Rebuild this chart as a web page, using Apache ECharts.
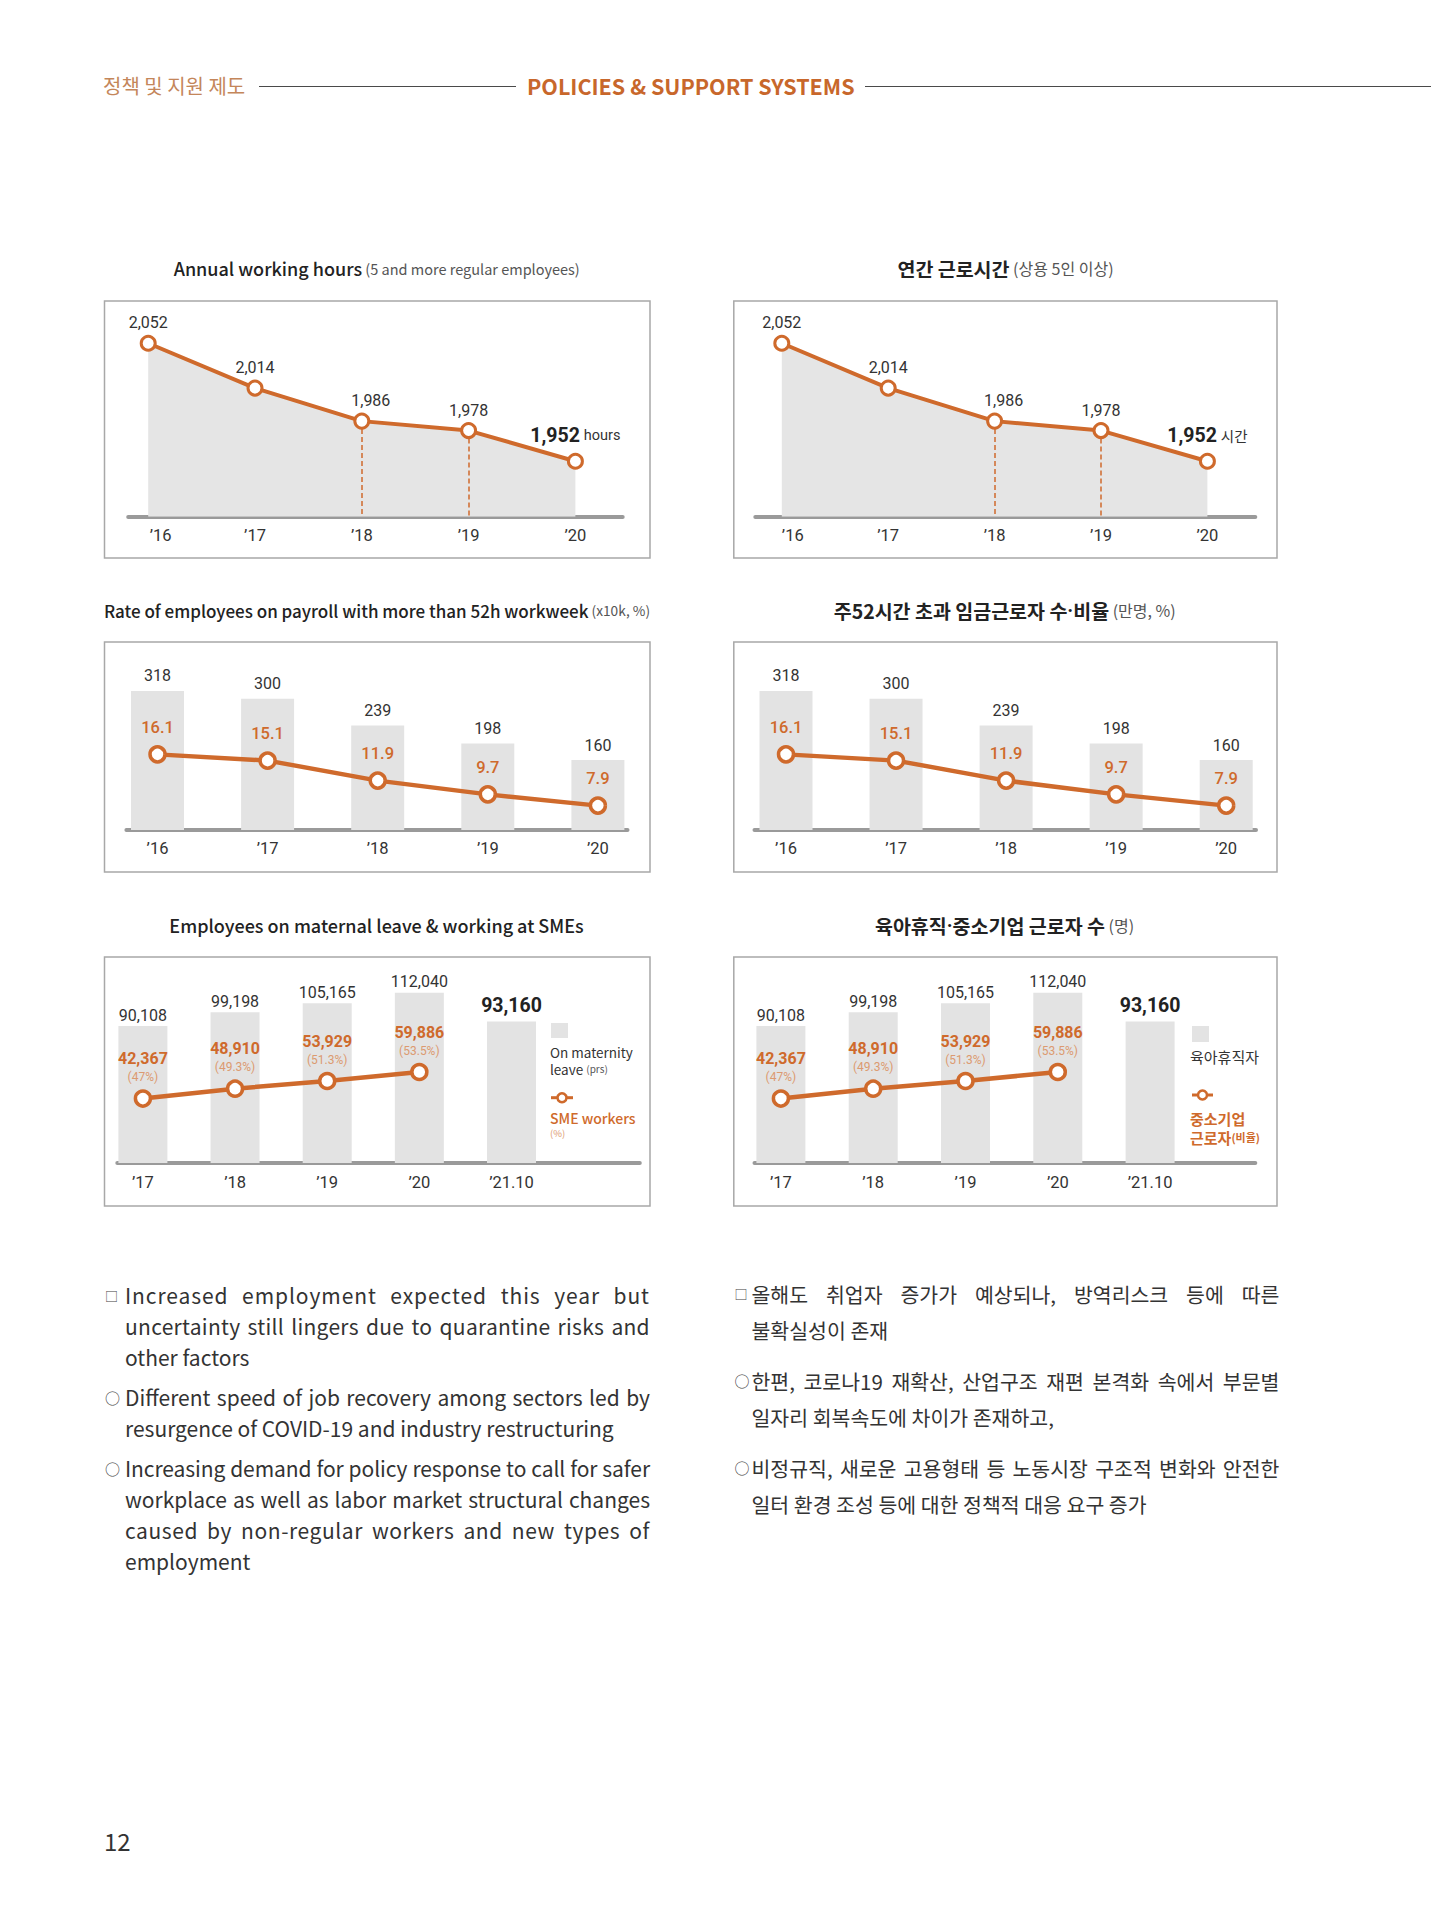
<!DOCTYPE html>
<html><head><meta charset="utf-8">
<script src="https://cdn.jsdelivr.net/npm/echarts@6/dist/echarts.min.js"></script>
<style>
html,body{margin:0;padding:0;background:#fff;}
body{width:1431px;height:1920px;position:relative;overflow:hidden;font-family:'Noto Sans CJK KR','Noto Sans',sans-serif;}
#chart{position:absolute;left:0;top:0;width:1431px;height:1920px;}
.abs{position:absolute;white-space:nowrap;}
.hline{position:absolute;height:1px;background:#4a4a4a;}
.col{position:absolute;color:#333;}
.para{position:relative;}
.mk{position:absolute;top:0;color:#444;letter-spacing:0;}
.ln{display:flex;justify-content:space-between;white-space:nowrap;}
.ln.last{display:block;}
</style></head>
<body>
<div id="chart"></div>
<div class="abs" style="left:103px;top:73px;font-size:20px;line-height:26px;color:#c4865a;">정책 및 지원 제도</div>
<div class="hline" style="left:259px;top:86px;width:257px;"></div>
<div class="abs" style="left:527px;top:71px;font-size:21.5px;line-height:30px;font-weight:700;color:#c8672b;">POLICIES &amp; SUPPORT SYSTEMS</div>
<div class="hline" style="left:865px;top:86px;width:566px;"></div>
<div id="leftCol" class="col" style="left:125px;top:1280px;width:525px;font-size:21px;line-height:31px;"></div>
<div id="rightCol" class="col" style="left:751.5px;top:1275.75px;width:528px;font-size:20.5px;line-height:36.5px;"></div>
<div class="abs" style="left:104px;top:1826px;font-size:24px;line-height:30px;color:#333;">12</div>
<script>
// ---------------- data ----------------
const hourYears = ['’16', '’17', '’18', '’19', '’20'];
const annualHours = [2052, 2014, 1986, 1978, 1952];
const longYears = ['’16', '’17', '’18', '’19', '’20'];
const longCount = [318, 300, 239, 198, 160];      // x10k persons
const longRate = [16.1, 15.1, 11.9, 9.7, 7.9];   // %
const leaveYears = ['’17', '’18', '’19', '’20', '’21.10'];
const leaveTotal = [90108, 99198, 105165, 112040, 93160];
const smeCount = [42367, 48910, 53929, 59886];
const smeShare = [47, 49.3, 51.3, 53.5];

const titlesMain = ['Annual working hours', '연간 근로시간', 'Rate of employees on payroll with more than 52h workweek', '주52시간 초과 임금근로자 수·비율', 'Employees on maternal leave & working at SMEs', '육아휴직·중소기업 근로자 수'];
const titlesSub = [' (5 and more regular employees)', ' (상용 5인 이상)', ' (x10k, %)', ' (만명, %)', '', ' (명)'];

const leftBullets = [
  {mark: '□', lines: ['Increased employment expected this year but', 'uncertainty still lingers due to quarantine risks and', 'other factors']},
  {mark: '○', lines: ['Different speed of job recovery among sectors led by', 'resurgence of COVID-19 and industry restructuring']},
  {mark: '○', lines: ['Increasing demand for policy response to call for safer', 'workplace as well as labor market structural changes', 'caused by non-regular workers and new types of', 'employment']}
];
const rightBullets = [
  {mark: '□', lines: ['올해도 취업자 증가가 예상되나, 방역리스크 등에 따른', '불확실성이 존재']},
  {mark: '○', lines: ['한편, 코로나19 재확산, 산업구조 재편 본격화 속에서 부문별', '일자리 회복속도에 차이가 존재하고,']},
  {mark: '○', lines: ['비정규직, 새로운 고용형태 등 노동시장 구조적 변화와 안전한', '일터 환경 조성 등에 대한 정책적 대응 요구 증가']}
];

// ---------------- style / layout ----------------
const ORANGE = '#cf6a2c';
const ORANGE_LIGHT = '#dc9a70';
const GRAY_BAR = '#e3e3e3';
const AXIS_GRAY = '#9a9a9a';
const NUM_FONT = 'Roboto, "Liberation Sans", sans-serif';
const KR_FONT = '"Noto Sans CJK KR", "Noto Sans", sans-serif';
const fmt = v => Number(v).toLocaleString('en-US');

const LAY = [
  {axisLeft: 128.2, axisRight: 622.7, first: 148.2, step: 106.8, top: 280.7, bottom: 516.7},
  {axisLeft: 755.3, axisRight: 1255.3, first: 781.8, step: 106.4, top: 280.7, bottom: 516.7},
  {axisLeft: 126.4, axisRight: 627.5, first: 157.5, step: 110.1, top: 655, bottom: 830},
  {axisLeft: 754.5, axisRight: 1256, first: 786, step: 110.05, top: 655, bottom: 830},
  {axisLeft: 117.3, axisRight: 639.8, first: 142.9, step: 92.15, top: 980.6, bottom: 1163},
  {axisLeft: 754.5, axisRight: 1255.3, first: 780.9, step: 92.3, top: 980.6, bottom: 1163}
];
const HOURS_MIN = 1905, HOURS_MAX = 2105;

const grids = LAY.map(g => ({left: g.axisLeft, top: g.top, width: g.axisRight - g.axisLeft, height: g.bottom - g.top, containLabel: false, outerBoundsMode: 'none'}));

function makeX(i, cats, margin, firstPad) {
  const g = LAY[i];
  return {
    type: 'value', gridIndex: i,
    min: (g.axisLeft - g.first) / g.step, max: (g.axisRight - g.first) / g.step,
    axisLine: {show: true, onZero: false, lineStyle: {color: AXIS_GRAY, width: 4}},
    axisTick: {show: false}, splitLine: {show: false},
    axisLabel: {
      customValues: cats.map((c, k) => k),
      formatter: v => { const k = Math.round(v); return (k === 0 && firstPad) ? '{p|' + cats[0] + '}' : cats[k]; },
      rich: {p: {padding: [0, 0, 0, firstPad || 0], fontSize: 16.5, fontFamily: NUM_FONT, color: '#333'}},
      margin: margin, fontSize: 16.5, fontFamily: NUM_FONT, color: '#333'
    }
  };
}

const xAxes = [
  makeX(0, hourYears, 10, 25), makeX(1, hourYears, 10, 22),
  makeX(2, longYears, 10, 0), makeX(3, longYears, 10, 0),
  makeX(4, leaveYears, 11, 0), makeX(5, leaveYears, 11, 0)
];
const hid = {show: false, splitLine: {show: false}};
const yAxes = [
  Object.assign({type: 'value', gridIndex: 0, min: HOURS_MIN, max: HOURS_MAX}, hid),
  Object.assign({type: 'value', gridIndex: 1, min: HOURS_MIN, max: HOURS_MAX}, hid),
  Object.assign({type: 'value', gridIndex: 2, min: 0, max: 400}, hid),
  Object.assign({type: 'value', gridIndex: 2, min: 4, max: 32}, hid),
  Object.assign({type: 'value', gridIndex: 3, min: 0, max: 400}, hid),
  Object.assign({type: 'value', gridIndex: 3, min: 4, max: 32}, hid),
  Object.assign({type: 'value', gridIndex: 4, min: 0, max: 120000}, hid),
  Object.assign({type: 'value', gridIndex: 5, min: 0, max: 120000}, hid)
];

function hoursSeries(i, unit, unitFont) {
  const n = annualHours.length;
  const pts = annualHours.map((v, k) => [k, v]);
  return [
    {
      type: 'line', xAxisIndex: i, yAxisIndex: i, data: pts, z: 1,
      showSymbol: false, symbol: 'none', lineStyle: {width: 0},
      areaStyle: {color: '#e5e5e5', opacity: 1, origin: 'start'},
      silent: true,
      markLine: {
        silent: true, symbol: 'none', label: {show: false}, animation: false,
        lineStyle: {color: ORANGE, type: [5, 3], width: 1.5},
        data: [2, 3].map(k => [{coord: [k, annualHours[k]]}, {coord: [k, HOURS_MIN]}])
      }
    },
    {
      type: 'line', xAxisIndex: i, yAxisIndex: i, data: pts, z: 6,
      symbol: 'circle', symbolSize: 14,
      itemStyle: {color: '#fff', borderColor: ORANGE, borderWidth: 3},
      lineStyle: {color: ORANGE, width: 4},
      label: {
        show: true, position: 'top', distance: 4, fontFamily: NUM_FONT, fontSize: 16, color: '#333',
        formatter: p => p.dataIndex === n - 1 ? '{b|' + fmt(p.value[1]) + '} {u|' + unit + '}' : fmt(p.value[1]),
        rich: {
          b: {fontSize: 19.5, fontWeight: 'bold', color: '#222', fontFamily: NUM_FONT},
          u: {fontSize: 14.5, color: '#333', fontFamily: unitFont}
        }
      },
      labelLayout: p => p.dataIndex === 2 ? {dx: 9} : (p.dataIndex === n - 1 ? {dy: -3} : {})
    }
  ];
}

function longSeries(i, yCount, yRate) {
  return [
    {
      type: 'bar', xAxisIndex: i, yAxisIndex: yCount, data: longCount.map((v, k) => [k, v]),
      barWidth: 53, itemStyle: {color: GRAY_BAR}, z: 2,
      label: {show: true, position: 'top', distance: 7, fontFamily: NUM_FONT, fontSize: 16, color: '#333', formatter: p => fmt(p.value[1])}
    },
    {
      type: 'line', xAxisIndex: i, yAxisIndex: yRate, data: longRate.map((v, k) => [k, v]), z: 4,
      symbol: 'circle', symbolSize: 15,
      itemStyle: {color: '#fff', borderColor: ORANGE, borderWidth: 3.5},
      lineStyle: {color: ORANGE, width: 4.5},
      label: {show: true, position: 'top', distance: 9, fontFamily: NUM_FONT, fontSize: 16.5, fontWeight: 500, color: ORANGE, formatter: p => String(p.value[1])}
    }
  ];
}

function leaveSeries(i, y) {
  const n = leaveTotal.length;
  return [
    {
      type: 'bar', xAxisIndex: i, yAxisIndex: y, data: leaveTotal.map((v, k) => [k, v]),
      barWidth: 49, itemStyle: {color: GRAY_BAR}, z: 2,
      label: {
        show: true, position: 'top', distance: 3,
        formatter: p => p.dataIndex === n - 1 ? '{b|' + fmt(p.value[1]) + '}' : '{n|' + fmt(p.value[1]) + '}',
        rich: {
          n: {fontFamily: NUM_FONT, fontSize: 16, color: '#333'},
          b: {fontFamily: NUM_FONT, fontSize: 19.5, fontWeight: 'bold', color: '#222', padding: [0, 0, 3, 0]}
        }
      }
    },
    {
      type: 'line', xAxisIndex: i, yAxisIndex: y, data: smeCount.map((v, k) => [k, v]), z: 4,
      symbol: 'circle', symbolSize: 15,
      itemStyle: {color: '#fff', borderColor: ORANGE, borderWidth: 3.5},
      lineStyle: {color: ORANGE, width: 4.5},
      label: {
        show: true, position: 'top', distance: 4,
        formatter: p => '{a|' + fmt(p.value[1]) + '}\n{b|(' + smeShare[p.dataIndex] + '%)}',
        rich: {
          a: {fontFamily: NUM_FONT, fontSize: 16, fontWeight: 'bold', color: ORANGE, lineHeight: 21, align: 'center'},
          b: {fontFamily: NUM_FONT, fontSize: 12, color: ORANGE_LIGHT, lineHeight: 16, align: 'center'}
        }
      }
    }
  ];
}

const series = [].concat(
  hoursSeries(0, 'hours', NUM_FONT), hoursSeries(1, '시간', KR_FONT),
  longSeries(2, 2, 3), longSeries(3, 4, 5),
  leaveSeries(4, 6), leaveSeries(5, 7)
);

// ---------------- decorations (boxes, titles, legends) ----------------
const boxes = [
  [104.5, 301, 545.5, 257], [733.8, 301, 543.2, 257],
  [104.5, 642, 545.5, 230], [733.8, 642, 543.2, 230],
  [104.5, 957, 545.5, 249], [733.8, 957, 543.2, 249]
];
const titlePos = [[376.7, 268], [1005.5, 268], [377, 610], [1004.7, 610], [376.5, 925], [1004.5, 925]];
const isKr = [false, true, false, true, false, true];
const mainSize = [18, 19.5, 17, 19.5, 18, 19.5];
const subSize = [14.5, 16, 13.7, 16, 14.5, 16];

const graphics = [];
boxes.forEach(b => graphics.push({type: 'rect', shape: {x: b[0], y: b[1], width: b[2], height: b[3]}, style: {fill: 'none', stroke: '#a8a8a8', lineWidth: 1.5}, silent: true}));
titlePos.forEach((p, i) => {
  const mainRich = titlesMain[i].split('·').map(s => '{m|' + s + '}').join('{d|·}');
  graphics.push({
    type: 'text', x: p[0], y: p[1], silent: true,
    style: {
      text: mainRich + (titlesSub[i] ? '{s|' + titlesSub[i] + '}' : ''),
      align: 'center', verticalAlign: 'middle', textAlign: 'center', textVerticalAlign: 'middle',
      rich: {
        m: {fontFamily: KR_FONT, fontSize: mainSize[i], fontWeight: isKr[i] ? 'bold' : 500, fill: '#222'},
        d: {fontFamily: NUM_FONT, fontSize: mainSize[i], fontWeight: 'bold', fill: '#222'},
        s: {fontFamily: KR_FONT, fontSize: subSize[i], fill: '#555'}
      }
    }
  });
});
function txt(x, y, text, rich) {
  return {type: 'text', x: x, y: y, silent: true, style: {text: text, fontFamily: KR_FONT, fontSize: 14, fill: '#333', align: 'left', verticalAlign: 'middle', textAlign: 'left', textVerticalAlign: 'middle', rich: rich}};
}
// left legend
graphics.push({type: 'rect', shape: {x: 551, y: 1023, width: 17, height: 15}, style: {fill: GRAY_BAR}, silent: true});
graphics.push(txt(550, 1060, '{a|On maternity}\n{a|leave} {b|(prs)}', {
  a: {fontFamily: KR_FONT, fontSize: 13.5, fill: '#333', lineHeight: 17},
  b: {fontFamily: KR_FONT, fontSize: 10, fill: '#555', lineHeight: 17}
}));
graphics.push({type: 'line', shape: {x1: 551, y1: 1097.7, x2: 573, y2: 1097.7}, style: {stroke: ORANGE, lineWidth: 3}, silent: true});
graphics.push({type: 'circle', shape: {cx: 562, cy: 1097.7, r: 4.5}, style: {fill: '#fff', stroke: ORANGE, lineWidth: 2.5}, silent: true});
graphics.push(txt(550, 1124, '{a|SME workers}\n{b|(%)}', {
  a: {fontFamily: KR_FONT, fontSize: 14, fontWeight: 500, fill: ORANGE, lineHeight: 17},
  b: {fontFamily: KR_FONT, fontSize: 9.5, fill: ORANGE_LIGHT, lineHeight: 13}
}));
// right legend
graphics.push({type: 'rect', shape: {x: 1192, y: 1026, width: 17, height: 16}, style: {fill: GRAY_BAR}, silent: true});
graphics.push(txt(1190, 1056.7, '{a|육아휴직자}', {a: {fontFamily: KR_FONT, fontSize: 15, fill: '#333'}}));
graphics.push({type: 'line', shape: {x1: 1192, y1: 1095, x2: 1213, y2: 1095}, style: {stroke: ORANGE, lineWidth: 3}, silent: true});
graphics.push({type: 'circle', shape: {cx: 1202.5, cy: 1095, r: 4.5}, style: {fill: '#fff', stroke: ORANGE, lineWidth: 2.5}, silent: true});
graphics.push(txt(1190, 1127.8, '{a|중소기업}\n{a|근로자}{b|(비율)}', {
  a: {fontFamily: KR_FONT, fontSize: 15, fontWeight: 'bold', fill: ORANGE, lineHeight: 19},
  b: {fontFamily: KR_FONT, fontSize: 11, fontWeight: 'bold', fill: ORANGE, lineHeight: 19}
}));

const chart = echarts.init(document.getElementById('chart'), null, {renderer: 'svg', width: 1431, height: 1920});
chart.setOption({
  animation: false,
  backgroundColor: 'transparent',
  grid: grids,
  xAxis: xAxes,
  yAxis: yAxes,
  series: series,
  graphic: {elements: graphics}
});

// ---------------- bullet text ----------------
function renderCol(el, paras, gap, markSize, markLeft) {
  paras.forEach((p, pi) => {
    const d = document.createElement('div');
    d.className = 'para';
    if (pi < paras.length - 1) d.style.marginBottom = gap + 'px';
    const m = document.createElement('span');
    m.className = 'mk';
    m.textContent = p.mark;
    m.style.left = markLeft + 'px';
    m.style.fontSize = (p.mark === '□' ? markSize - 2 : markSize) + 'px';
    d.appendChild(m);
    p.lines.forEach((t, li) => {
      const ln = document.createElement('div');
      if (li < p.lines.length - 1) {
        ln.className = 'ln';
        t.split(' ').forEach(w => { const s = document.createElement('span'); s.textContent = w; ln.appendChild(s); });
      } else {
        ln.className = 'ln last';
        ln.textContent = t;
      }
      d.appendChild(ln);
    });
    el.appendChild(d);
  });
}
function fitLines(col, spread) {
  col.querySelectorAll('.ln:not(.last)').forEach(ln => {
    const W = ln.clientWidth;
    const text = Array.from(ln.children).map(s => s.textContent).join(' ');
    const probe = document.createElement('span');
    probe.style.cssText = 'white-space:nowrap;position:absolute;visibility:hidden;left:0;top:0;';
    probe.textContent = text;
    ln.parentNode.appendChild(probe);
    const nat = probe.getBoundingClientRect().width;
    probe.remove();
    const extra = W - nat;
    let ls = 0;
    if (extra < 0) ls = extra / text.length - 0.05;
    else if (spread && extra / nat > 0.04) ls = extra * 0.5 / text.length;
    if (ls) ln.style.letterSpacing = ls.toFixed(3) + 'px';
  });
}
const leftCol = document.getElementById('leftCol');
const rightCol = document.getElementById('rightCol');
renderCol(leftCol, leftBullets, 9, 15, -20);
renderCol(rightCol, rightBullets, 14, 15, -17);
fitLines(leftCol, true);
fitLines(rightCol, false);
</script>
</body></html>
